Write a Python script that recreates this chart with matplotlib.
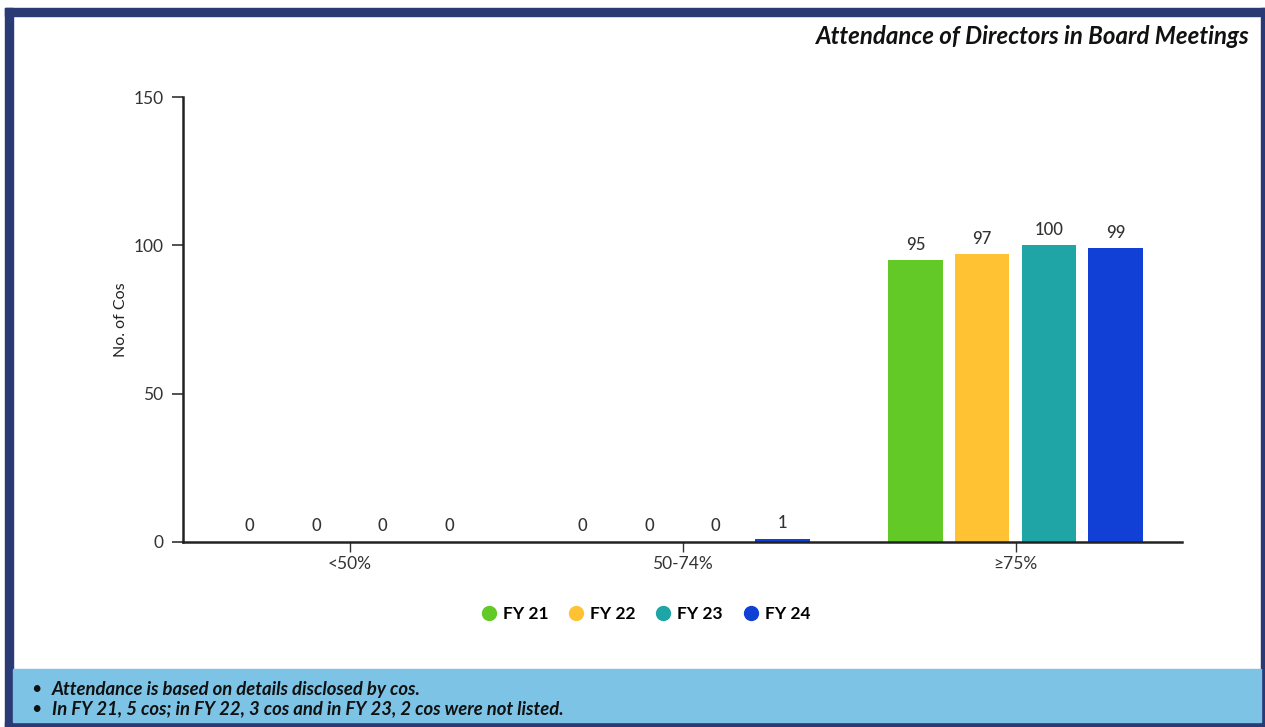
import matplotlib
matplotlib.use("Agg")
import matplotlib.pyplot as plt
from matplotlib.patches import Rectangle
from matplotlib.lines import Line2D
import numpy as np

plt.rcParams['font.family'] = ['Lato', 'DejaVu Sans']

categories = ["<50%", "50-74%", "\u226575%"]
series_names = ["FY 21", "FY 22", "FY 23", "FY 24"]
values = {
    "FY 21": [0, 0, 95],
    "FY 22": [0, 0, 97],
    "FY 23": [0, 0, 100],
    "FY 24": [0, 1, 99],
}
colors = ["#62c926", "#ffc233", "#1fa5a5", "#1140d6"]
y_ticks = [0, 50, 100, 150]
title = "Attendance of Directors in Board Meetings"
notes = [
    "Attendance is based on details disclosed by cos.",
    "In FY 21, 5 cos; in FY 22, 3 cos and in FY 23, 2 cos were not listed.",
]

W, H = 1265, 727
fig = plt.figure(figsize=(W / 100, H / 100), dpi=100)
fig.patch.set_facecolor("white")

navy = "#293a75"
# frame around the panel
fig.patches.append(Rectangle((5 / W, 0), 8 / W, (H - 8) / H, transform=fig.transFigure,
                             color=navy, zorder=0))
fig.patches.append(Rectangle((5 / W, (H - 16) / H), (W - 5) / W, 8 / H, transform=fig.transFigure,
                             color=navy, zorder=0))
fig.patches.append(Rectangle((1261 / W, 0), 4 / W, (H - 8) / H, transform=fig.transFigure,
                             color=navy, zorder=0))
fig.patches.append(Rectangle((5 / W, 0), (W - 5) / W, 5 / H, transform=fig.transFigure,
                             color=navy, zorder=0))
# notes box
fig.patches.append(Rectangle((13 / W, 5 / H), 1248 / W, 53 / H, transform=fig.transFigure,
                             color="#7dc3e5", zorder=0))

fig.text(1250 / W, 1 - 37 / H, title, ha="right", va="center", fontsize=17.3,
         fontweight="bold", style="italic", color="#111111")

ax = fig.add_axes([183 / W, 185 / H, 999 / W, 445 / H])
n = len(series_names)
x = np.arange(len(categories))
slot = 0.2
bw = 0.163
for i, name in enumerate(series_names):
    pos = x + (i - (n - 1) / 2) * slot
    ax.bar(pos, values[name], width=bw, color=colors[i], zorder=1)
    for p, v in zip(pos, values[name]):
        off = 7 if v > 5 else 8
        ax.annotate(str(v), (p, v), xytext=(0, off), textcoords="offset pixels",
                    ha="center", va="bottom", fontsize=12, color="#333333",
                    fontweight="medium")

ax.set_xlim(-0.5, len(categories) - 0.5)
ax.set_ylim(0, 150)
ax.set_yticks(y_ticks)
ax.set_xticks(x)
ax.set_xticklabels(categories)
for s in ["top", "right"]:
    ax.spines[s].set_visible(False)
for s in ["left", "bottom"]:
    ax.spines[s].set_linewidth(1.8)
    ax.spines[s].set_color("#222222")
    ax.spines[s].set_zorder(3)
ax.tick_params(axis="y", length=8, width=1.2, color="#333333", labelsize=12.5,
               labelcolor="#333333", pad=6)
ax.tick_params(axis="x", length=7, width=1, color="#333333", labelsize=12.5,
               labelcolor="#333333", pad=3)
ax.set_ylabel("No. of Cos", fontsize=11.5, color="#222222", labelpad=4)

handles = [Line2D([0], [0], marker="o", linestyle="", markersize=10,
                  markerfacecolor=c, markeredgecolor=c) for c in colors]
fig.legend(handles, series_names, loc="center", bbox_to_anchor=(646 / W, 1 - 614 / H),
           ncol=4, frameon=False, handlelength=0.8, handletextpad=0.4, columnspacing=1.2,
           prop={"weight": "bold", "size": 12.5})

for k, note in enumerate(notes):
    yy = 1 - (689 + 20 * k) / H
    fig.text(31 / W, yy, "\u2022", ha="left", va="center", fontsize=13, color="#111111")
    fig.text(52 / W, yy, note, ha="left", va="center", fontsize=13.3, style="italic",
             fontweight="bold", color="#111111")

fig.savefig("out.png", dpi=100)
